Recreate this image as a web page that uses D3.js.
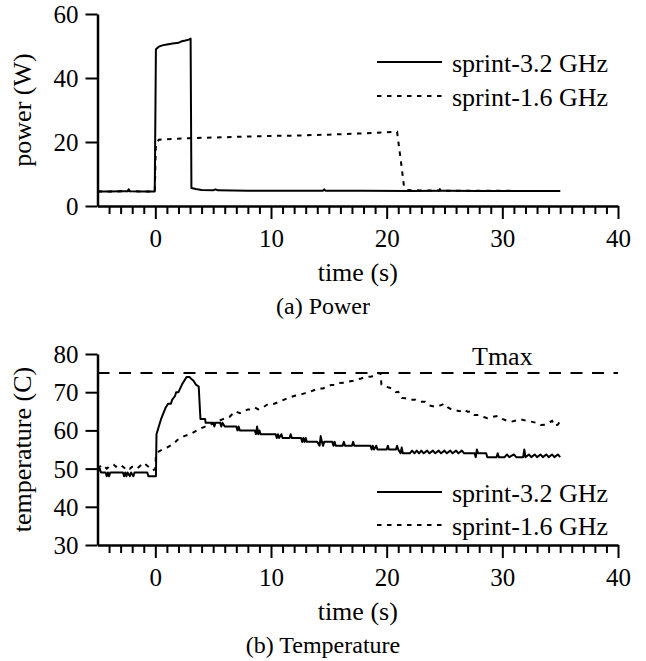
<!DOCTYPE html>
<meta charset="utf-8">
<script src="https://d3js.org/d3.v7.min.js"></script>
<style>
  body { margin: 0; background: #fff; }
  svg text { font-family: "Liberation Serif", "Times New Roman", serif; fill: #000; }
</style>
<div id="chart"></div>
<script>

// ---- data ----
const seriesNames = ["sprint-3.2 GHz", "sprint-1.6 GHz"];
const timeMajorTicks = [0, 10, 20, 30, 40];
const powerTicks = [0, 20, 40, 60];
const tempTicks = [30, 40, 50, 60, 70, 80];
const tMax = 75;

// power (W) vs time (s)
const power32 = [[-5,4.5],[-4,4.5],[-3,4.6],[-2.4,4.6],[-2.3,5.1],[-2.2,4.6],[-1,4.5],[-0.05,4.5],
  [0.05,49.0],[0.3,49.8],[0.6,50.2],[1.0,50.5],[1.5,50.8],[2.0,51.0],[2.3,51.5],[2.6,51.7],[2.9,52.0],[3.05,52.3],
  [3.12,5.6],[3.5,5.3],[4,5.0],[5,4.9],[5.2,5.2],[5.4,4.9],[8,4.8],[12,4.8],[14.5,4.8],[14.6,5.2],[14.7,4.8],
  [18,4.8],[22,4.7],[25,4.8],[28,4.7],[32,4.7],[35,4.7]];
const power16 = [[-5,4.5],[-2.4,4.6],[-2.3,5.1],[-2.2,4.6],[-0.05,4.5],[0.05,19.5],[0.3,20.7],[3,21.2],[6,21.5],
  [10,21.9],[12,22.0],[15,22.3],[18,22.7],[20.9,23.2],[21.3,12],[21.5,6.0],[21.8,5.0],[22.5,4.9],[24.5,4.8],
  [24.6,5.2],[24.7,4.8],[28,4.8],[32,4.7],[35,4.7]];

// temperature (C) vs time (s)
const temp32 = [[-5,50],[-4.9,49.5],[-4.8,50],[-4.7,49],[-4.3,49],[-4.2,48],[-4.1,49],[-4.0,48],[-3.9,49],
  [-2.8,49],[-2.7,48],[-2.6,49],[-2.5,48],[-2.4,49],[-2.2,48],[-2.1,49],[-1.9,48],[-1.8,49],[-0.7,49],[-0.6,48],
  [0.05,48],[0.1,59],[0.3,61],[0.5,63],[0.7,64.5],[0.9,66],[1.1,67],[1.35,67],[1.45,68],[1.7,69],[1.8,70],[2.0,70],
  [2.15,71],[2.3,72],[2.5,73],[2.7,74],[2.95,74],[3.1,73.5],[3.3,73],[3.5,72],[3.75,71.5],[3.9,63],[4.3,63],
  [4.35,62],[5.0,62],[5.1,61],[5.2,62],[5.6,62],[5.7,61],[5.8,62],[6.0,61],[7.0,61],[7.1,60],[7.2,61],[7.3,60],
  [8.6,60],[8.7,59],[8.8,61],[8.9,59],[9.0,60],[9.1,59],[10.4,59],[10.5,58],[10.6,59],[10.7,58],[10.9,59],[11.0,58],
  [11.6,58],[11.7,59],[11.8,58],[12.6,58],[12.7,57],[12.8,58],[12.9,57],[13.0,58],[13.1,57],[14.0,57],[14.2,56],
  [14.3,58.5],[14.4,57],[14.5,56],[14.6,57],[15.3,57],[15.4,56],[15.5,57],[15.6,56],[16.2,56],[16.3,57],[16.4,56],
  [17.0,56],[17.1,57],[17.2,56],[18.6,56],[18.7,55],[18.8,56],[18.9,55],[19.1,56],[19.2,55],[20.0,55],[20.1,56],
  [20.2,55],[20.8,55],[20.9,56],[21.0,55],[21.2,54],[21.3,55.5],[21.4,54],[22.0,54],[22.2,54.7],[22.4,54],
  [22.6,54.7],[22.8,54],[23.0,54.7],[23.2,54],[23.5,54.7],[23.7,54],[24.0,54.7],[24.2,54],[24.5,54.7],[24.7,54],
  [25.0,54.7],[25.2,54],[25.5,54.7],[25.7,54],[26.0,54.7],[26.2,54],[26.5,54.7],[26.7,54],[27.6,54],[27.7,53],
  [27.8,55],[27.9,54],[28.6,54],[28.7,53],[29.5,53],[29.6,54],[29.7,53],[30.2,53],[30.4,53.7],[30.6,53],
  [31.0,53.7],[31.2,53],[31.8,53],[31.9,55],[32.0,53],[32.3,53.7],[32.5,53],[32.8,53.7],[33.0,53],[33.3,53.7],
  [33.5,53],[33.8,53.7],[34.0,53],[34.3,53.7],[34.5,53],[34.8,53.7],[35,53]];
const temp16 = [[-5,50],[-4.8,50.5],[-4.6,51],[-4.4,50.5],[-4.2,50],[-4.0,50.5],[-3.8,51],[-3.6,51],[-3.4,50.5],
  [-3.2,51],[-3.0,51],[-2.8,50.5],[-2.6,50],[-2.4,50.5],[-2.2,50],[-2.0,50.5],[-1.8,50.5],[-1.6,50],[-1.4,50.5],
  [-1.2,51],[-1.0,50.5],[-0.8,51],[-0.6,50.5],[-0.4,50],[-0.2,49.5],[0.0,50],[0.05,53.5],[0.3,54.5],[0.6,55],
  [1.0,55.5],[1.3,56],[1.6,56.5],[1.9,57.5],[2.2,58],[2.5,58.5],[3.0,59],[3.3,59.5],[3.6,60],[3.9,60.5],[4.3,61],
  [4.75,61.5],[5.1,62],[5.5,62.5],[5.9,63],[6.4,63.5],[6.9,65],[7.3,64.5],[7.7,65],[8.0,65.5],[8.3,65.5],[8.6,66],
  [8.9,65.5],[9.3,66],[9.8,67],[10.3,67],[10.7,67.5],[11.1,68],[11.5,68.5],[12.0,69],[12.4,69.3],[12.9,69.7],
  [13.3,70],[13.7,70.5],[14.1,71],[14.5,71],[14.9,71.5],[15.2,71.9],[15.5,71.9],[15.9,72.4],[16.3,72.5],[16.7,72.8],
  [17.1,73],[17.4,73.3],[17.8,73.6],[18.2,74],[18.7,74.1],[19.0,74.5],[19.3,75],[19.45,75],[19.55,72],[19.9,71.5],
  [20.4,71],[20.8,70],[21.0,70.1],[21.3,68.5],[21.6,68.4],[22.1,68],[22.5,68],[22.8,67.5],[23.3,67.5],[23.7,66.5],
  [24.2,66.2],[24.6,66.5],[25.0,67],[25.3,66],[25.6,65.5],[25.9,65.3],[26.3,65],[26.6,65.5],[27.0,64.9],[27.3,65],
  [27.6,64],[28.0,64],[28.4,63.5],[28.7,63.2],[29.1,63.5],[29.6,63.8],[30.0,63],[30.4,62.5],[30.8,62.3],[31.2,62.6],
  [31.6,62.9],[32.1,62.5],[32.5,62.3],[32.9,62],[33.3,61.4],[33.7,61.5],[34.0,62],[34.3,62.5],[34.5,61.2],
  [34.8,61.5],[35.0,62.5]];

// ---- layout ----
const W = 646, H = 661;
const svg = d3.select("#chart").append("svg")
  .attr("width", W)
  .attr("height", H);

const x = d3.scaleLinear().domain([-5, 40]).range([97.5, 618]);
const minorTicks = d3.range(-4, 40).filter(d => d % 10 !== 0);

function drawPanel(o) {
  const y = d3.scaleLinear().domain(o.yDomain).range([o.bottom, o.top]);
  const g = svg.append("g");

  // x axis with major + minor ticks
  const xa = g.append("g")
    .attr("transform", `translate(0,${o.bottom})`)
    .call(d3.axisBottom(x).tickValues(timeMajorTicks).tickSize(13).tickSizeOuter(0).tickPadding(9));
  g.append("g")
    .attr("transform", `translate(0,${o.bottom})`)
    .call(d3.axisBottom(x).tickValues(minorTicks).tickSize(8).tickFormat(""))
    .call(s => s.select(".domain").remove());

  const ya = g.append("g")
    .attr("transform", `translate(${x(-5)},0)`)
    .call(d3.axisLeft(y).tickValues(o.yTicks).tickSize(12).tickSizeOuter(0).tickPadding(7));

  g.selectAll(".domain").attr("stroke-width", 2.5);
  g.selectAll(".tick line").attr("stroke-width", 2);
  g.selectAll(".tick text")
    .style("font-family", "Liberation Serif, serif")
    .style("font-size", "25px");
  ya.selectAll(".tick text").attr("dy", "0.34em");
  xa.selectAll(".tick text").attr("dy", "0.76em");

  // reference line
  if (o.refLine != null) {
    g.append("line")
      .attr("x1", x(-5)).attr("x2", x(40))
      .attr("y1", y(o.refLine)).attr("y2", y(o.refLine))
      .attr("stroke", "#000").attr("stroke-width", 2)
      .attr("stroke-dasharray", "12,9.5");
    g.append("text")
      .attr("x", x(30)).attr("y", o.refLabelY)
      .attr("text-anchor", "middle")
      .style("font-size", "26px")
      .text("Tmax");
  }

  const line = d3.line().x(d => x(d[0])).y(d => y(d[1]));
  g.append("path").datum(o.s16)
    .attr("fill", "none").attr("stroke", "#000").attr("stroke-width", 2)
    .attr("stroke-dasharray", "4.5,5.5")
    .attr("d", line);
  g.append("path").datum(o.s32)
    .attr("fill", "none").attr("stroke", "#000").attr("stroke-width", 2)
    .attr("stroke-linejoin", "round")
    .attr("d", line);

  // legend
  const dashes = [null, "4.5,5.5"];
  seriesNames.forEach((name, i) => {
    const ly = o.legendY[i];
    g.append("line")
      .attr("x1", 377).attr("x2", 442).attr("y1", ly).attr("y2", ly)
      .attr("stroke", "#000").attr("stroke-width", 2)
      .attr("stroke-dasharray", dashes[i]);
    g.append("text")
      .attr("x", 452).attr("y", ly + 10)
      .style("font-size", "26px")
      .text(name);
  });

  // axis titles
  g.append("text")
    .attr("x", (x(-5) + x(40)) / 2).attr("y", o.bottom + 75)
    .attr("text-anchor", "middle")
    .style("font-size", "26px")
    .text("time (s)");
  g.append("text")
    .attr("transform", `translate(31,${(o.top + o.bottom) / 2}) rotate(-90)`)
    .attr("text-anchor", "middle")
    .style("font-size", "26px")
    .text(o.yLabel);
  g.append("text")
    .attr("x", 323).attr("y", o.bottom + 108)
    .attr("text-anchor", "middle")
    .style("font-size", "24px")
    .text(o.caption);
}

drawPanel({
  top: 14, bottom: 206, yDomain: [0, 60], yTicks: powerTicks,
  s32: power32, s16: power16, legendY: [62, 96],
  yLabel: "power (W)", caption: "(a) Power"
});

drawPanel({
  top: 354, bottom: 545, yDomain: [30, 80], yTicks: tempTicks,
  s32: temp32, s16: temp16, legendY: [492, 525],
  refLine: tMax, refLabelY: 365,
  yLabel: "temperature (C)", caption: "(b) Temperature"
});

</script>
